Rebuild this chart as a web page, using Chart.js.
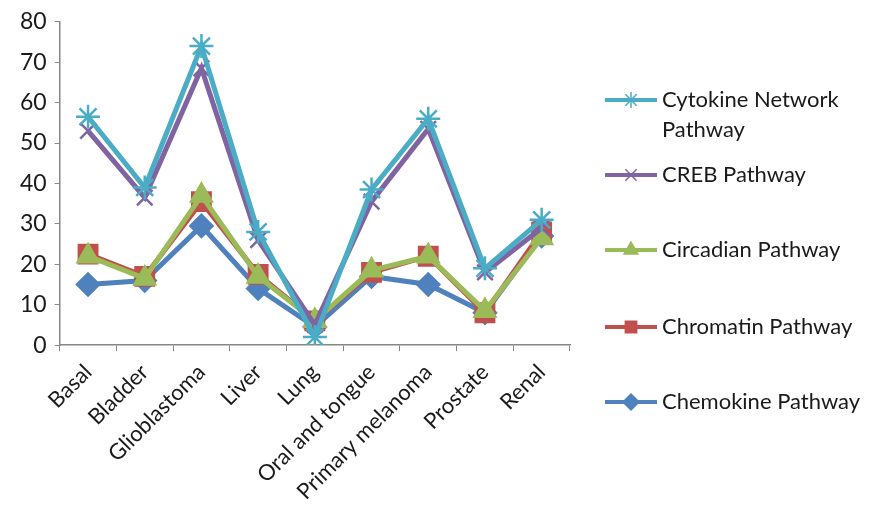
<!DOCTYPE html>
<html>
<head>
<meta charset="utf-8">
<script src="https://cdn.jsdelivr.net/npm/chart.js@4.4.1/dist/chart.umd.min.js"></script>
<style>
  html, body { margin: 0; padding: 0; background: #fff; }
  #wrap { width: 876px; height: 516px; }
</style>
</head>
<body>
<div id="wrap"><canvas id="chart"></canvas></div>
<script>
const categories = ['Basal', 'Bladder', 'Glioblastoma', 'Liver', 'Lung',
    'Oral and tongue', 'Primary melanoma', 'Prostate', 'Renal'];

const cytokine = [56.5, 39, 74, 28, 2, 38.5, 56, 19, 31];
const creb = [53, 36.5, 68.5, 26, 5, 35.5, 53.5, 18, 29];
const circadian = [22, 16.5, 37, 17, 6, 18.5, 22, 8.5, 26.5];
const chromatin = [22.5, 17, 35.5, 17.5, 6, 18, 22, 8, 28];
const chemokine = [15, 16, 29.5, 14, 4.5, 17, 15, 8, 27];

const yTicks = [0, 10, 20, 30, 40, 50, 60, 70, 80];

const FONT = 'Lato, "Open Sans", sans-serif';

function series(label, data, color, pointStyle, radius) {
    return {
        label: label,
        data: data,
        borderColor: color,
        backgroundColor: color,
        borderWidth: 5,
        pointStyle: pointStyle,
        pointRadius: radius,
        pointBorderWidth: 2.5,
        pointBorderColor: color,
        pointBackgroundColor: color,
        tension: 0
    };
}

const datasets = [
    series(['Cytokine Network', 'Pathway'], cytokine, '#4BACC6', 'star', 12),
    series('CREB Pathway', creb, '#8064A2', 'crossRot', 11),
    series('Circadian Pathway', circadian, '#9BBB59', 'triangle', 12),
    series('Chromatin Pathway', chromatin, '#C0504D', 'rect', 13),
    series('Chemokine Pathway', chemokine, '#4F81BD', 'rectRot', 11)
];

// legend drawn by hand so the first entry can wrap onto two lines
const sideLegend = {
    id: 'sideLegend',
    afterDraw(chart) {
        const ctx = chart.ctx;
        const rows = [100, 175, 250, 327, 402];
        ctx.save();
        chart.data.datasets.forEach((ds, i) => {
            const y = rows[i];
            ctx.strokeStyle = ds.borderColor;
            ctx.lineWidth = 4;
            ctx.beginPath();
            ctx.moveTo(605, y);
            ctx.lineTo(657, y);
            ctx.stroke();
            ctx.lineWidth = 1.5;
            ctx.fillStyle = ds.backgroundColor;
            Chart.helpers.drawPoint(ctx, {
                pointStyle: ds.pointStyle, radius: 8, rotation: 0, borderWidth: 1.5
            }, 631, y);
            ctx.fillStyle = '#1a1a1a';
            ctx.font = '22px ' + FONT;
            ctx.textBaseline = 'middle';
            const lines = Array.isArray(ds.label) ? ds.label : [ds.label];
            lines.forEach((t, j) => ctx.fillText(t, 662, y + j * 30));
        });
        ctx.restore();
    }
};

new Chart(document.getElementById('chart'), {
    type: 'line',
    data: { labels: categories, datasets: datasets },
    options: {
        responsive: true,
        maintainAspectRatio: false,
        animation: false,
        layout: { padding: { left: 12, right: 306, top: 12, bottom: 3 } },
        plugins: {
            legend: { display: false },
            tooltip: { enabled: false }
        },
        scales: {
            x: {
                offset: true,
                grid: {
                    offset: true,
                    drawOnChartArea: false,
                    drawTicks: true,
                    tickLength: 6,
                    color: '#868686'
                },
                border: { color: '#868686', width: 1.5 },
                ticks: {
                    color: '#1a1a1a',
                    font: { family: FONT, size: 22 },
                    minRotation: 45,
                    maxRotation: 45,
                    autoSkip: false,
                    padding: 8
                }
            },
            y: {
                min: 0,
                max: 80,
                afterBuildTicks: axis => { axis.ticks = yTicks.map(v => ({ value: v })); },
                grid: {
                    drawOnChartArea: false,
                    drawTicks: true,
                    tickLength: 5,
                    color: '#868686'
                },
                border: { color: '#868686', width: 1.5 },
                ticks: {
                    color: '#1a1a1a',
                    font: { family: FONT, size: 23 },
                    padding: 8
                }
            }
        }
    },
    plugins: [sideLegend]
});
</script>
</body>
</html>
